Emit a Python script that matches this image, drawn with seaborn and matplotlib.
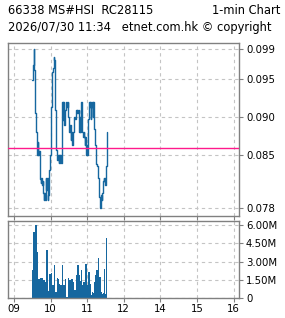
import matplotlib
matplotlib.use("Agg")
import matplotlib.pyplot as plt
import seaborn as sns
import pandas as pd

# ---- data ----
price_minutes = [30, 31, 32, 33, 34, 35, 36, 37, 38, 39, 40, 41, 42, 43, 44, 45, 46, 47, 48, 49,
                 50, 51, 52, 53, 54, 55, 56, 57, 58, 59, 60, 61, 62, 63, 64, 65, 66, 67, 68, 69,
                 70, 71, 72, 73, 74, 75, 76, 77, 78, 79, 80, 81, 82, 83, 84, 85, 86, 87, 88, 89,
                 90, 91, 92, 93, 94, 95, 96, 97, 98, 99, 100, 101, 102, 103, 104, 105, 106, 107, 108, 109,
                 110, 111, 112, 113, 114, 115, 116, 117, 118, 119, 120, 121, 122, 123, 124, 125, 126, 127, 128, 129,
                 130, 131, 132, 133, 134, 135, 136, 137, 138, 139, 140, 141, 142, 143, 144, 145, 146, 147, 148, 149,
                 150, 151, 152, 153]
prices = [0.0949, 0.0969, 0.0990, 0.0962, 0.0940, 0.0905, 0.0880, 0.0874, 0.0850, 0.0867,
          0.0850, 0.0855, 0.0850, 0.0818, 0.0813, 0.0820, 0.0810, 0.0815, 0.0800, 0.0790,
          0.0800, 0.0790, 0.0820, 0.0804, 0.0820, 0.0790, 0.0797, 0.0804, 0.0830, 0.0850,
          0.0910, 0.0914, 0.0940, 0.0960, 0.0965, 0.0980, 0.0975, 0.0960, 0.0910, 0.0856,
          0.0850, 0.0843, 0.0850, 0.0840, 0.0850, 0.0840, 0.0850, 0.0840, 0.0850, 0.0920,
          0.0896, 0.0920, 0.0889, 0.0896, 0.0910, 0.0914, 0.0920, 0.0914, 0.0920, 0.0900,
          0.0885, 0.0880, 0.0889, 0.0870, 0.0880, 0.0863, 0.0874, 0.0880, 0.0898, 0.0900,
          0.0898, 0.0900, 0.0910, 0.0905, 0.0910, 0.0905, 0.0910, 0.0880, 0.0900, 0.0880,
          0.0920, 0.0900, 0.0880, 0.0874, 0.0880, 0.0874, 0.0863, 0.0874, 0.0850, 0.0863,
          0.0850, 0.0863, 0.0898, 0.0920, 0.0914, 0.0920, 0.0898, 0.0914, 0.0920, 0.0900,
          0.0920, 0.0898, 0.0885, 0.0863, 0.0850, 0.0838, 0.0835, 0.0826, 0.0820, 0.0815,
          0.0795, 0.0780, 0.0790, 0.0797, 0.0790, 0.0800, 0.0815, 0.0820, 0.0815, 0.0820,
          0.0810, 0.0835, 0.0874, 0.0880]

vol_minutes = [31, 33, 34, 36, 38, 39, 41, 43, 44, 46, 47, 49, 51, 52, 54, 56, 57, 59, 61, 62,
               64, 66, 67, 69, 71, 72, 74, 76, 77, 79, 80, 82, 84, 85, 87, 89, 90, 92, 93, 95,
               97, 98, 100, 102, 103, 105, 107, 108, 110, 111, 113, 115, 116, 118, 120, 121, 123, 125, 126, 128,
               129, 131, 133, 134, 136, 138, 139, 141, 143, 144, 146, 147, 149, 151, 152]
volumes_m = [2.28, 5.45, 4.27, 6.00, 3.80, 1.46, 1.60, 1.65, 1.65, 1.65, 0.63, 1.46, 1.05, 1.32, 3.94, 0.55, 0.08, 2.01, 2.06, 1.18,
             1.05, 2.70, 0.91, 0.50, 1.65, 1.54, 1.18, 0.22, 1.05, 1.18, 2.70, 1.05, 1.60, 0.63, 0.08, 1.65, 0.44, 1.46, 0.50, 1.60,
             0.91, 1.32, 0.63, 1.87, 1.32, 2.75, 0.91, 1.87, 1.38, 2.28, 1.05, 1.32, 0.91, 2.83, 1.05, 1.05, 2.15, 1.18, 0.08, 0.22,
             0.50, 0.44, 1.32, 1.93, 2.28, 1.05, 3.25, 1.73, 0.50, 0.36, 0.36, 0.44, 2.42, 0.36, 4.90]

prev_close = 0.0859
price_ticks = [0.078, 0.085, 0.090, 0.095, 0.099]
price_tick_labels = ["0.078", "0.085", "0.090", "0.095", "0.099"]
vol_ticks = [0, 1.5, 3.0, 4.5, 6.0]
vol_tick_labels = ["0", "1.50M", "3.00M", "4.50M", "6.00M"]
x_ticks = [0, 1, 2, 3, 4, 5, 6]
x_tick_labels = ["09", "10", "11", "12", "14", "15", "16"]
title_left_1 = "66338 MS#HSI  RC28115"
title_right_1 = "1-min Chart"
title_line_2 = "2026/07/30 11:34   etnet.com.hk \u00a9 copyright"

# ---- style ----
sns.set_theme(style="white")
plt.rcParams['font.family'] = ['DejaVu Sans']
BLUE = "#16679f"
PINK = "#ff1a8c"
FRAME = "#808080"
GRID = "#c4c4c4"

price_df = pd.DataFrame({"pos": [m / 60.0 for m in price_minutes], "price": prices})
vol_df = pd.DataFrame({"pos": [m / 60.0 for m in vol_minutes], "vol": volumes_m})

fig = plt.figure(figsize=(2.85, 3.18), dpi=100)
ax = fig.add_axes([8 / 285, 1 - 216 / 318, 231 / 285, 173 / 318])
axv = fig.add_axes([8 / 285, 1 - 298 / 318, 231 / 285, 77 / 318])

xlim = (-0.164, 6.15)

sns.lineplot(data=price_df, x="pos", y="price", ax=ax, color=BLUE, lw=1.0,
             drawstyle="steps-post", legend=False)
ax.axhline(prev_close, color=PINK, lw=1.0, zorder=5)
ax.set_xlim(*xlim)
ax.set_ylim(0.07694, 0.0998)
ax.set_yticks(price_ticks)
ax.set_yticklabels(price_tick_labels)
ax.set_xticks(x_ticks)
ax.set_xticklabels([])

axv.bar(vol_df["pos"], vol_df["vol"], width=2.1 / 60, color=BLUE, align="center", lw=0)
axv.set_xlim(*xlim)
axv.set_ylim(0, 6.33)
axv.set_yticks(vol_ticks)
axv.set_yticklabels(vol_tick_labels)
axv.set_xticks(x_ticks)
axv.set_xticklabels(x_tick_labels)

for a in (ax, axv):
    a.set_xlabel("")
    a.set_ylabel("")
    a.grid(True, color=GRID, ls=(0, (3, 3)), lw=0.8)
    a.set_axisbelow(True)
    for s in a.spines.values():
        s.set_color(FRAME)
        s.set_linewidth(1.0)
    a.yaxis.tick_right()
    a.tick_params(axis="y", which="both", direction="out", length=3, width=0.8, color=FRAME,
                  labelsize=7.3, pad=2, left=False, right=True, labelcolor="black")
    a.tick_params(axis="x", which="both", direction="out", length=3, width=0.8, color=FRAME,
                  labelsize=7.3, pad=1, bottom=True, labelcolor="black")

fig.text(8 / 285, 1 - 10 / 318, title_left_1, fontsize=8.3, va="center", ha="left", color="black")
fig.text(280 / 285, 1 - 10 / 318, title_right_1, fontsize=8.3, va="center", ha="right", color="black")
fig.text(8 / 285, 1 - 27 / 318, title_line_2, fontsize=8.3, va="center", ha="left", color="black")

fig.savefig("out.png", dpi=100)
